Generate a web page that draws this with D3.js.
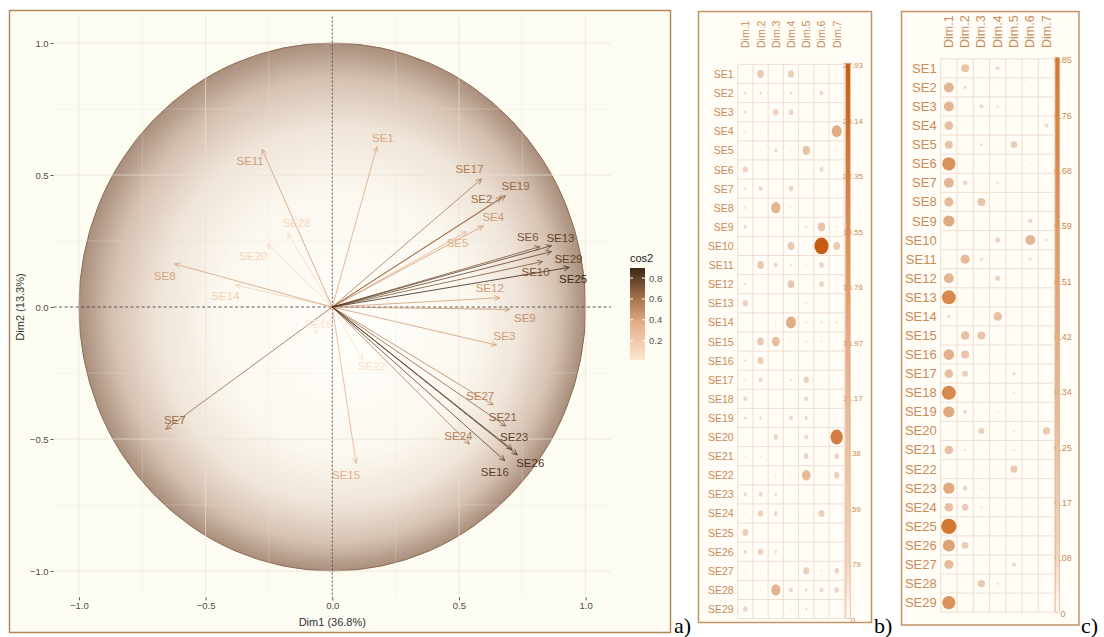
<!DOCTYPE html>
<html>
<head>
<meta charset="utf-8">
<script src="https://cdn.jsdelivr.net/npm/d3@7"></script>
<style>
  body { margin: 0; background: #fff; }
  svg text { font-family: "Liberation Sans", Arial, sans-serif; }
</style>
</head>
<body>
<svg id="fig" width="1104" height="637"></svg>
<script>
// ---- data ----
var varNames = d3.range(1, 30).map(function (i) { return "SE" + i; });
var dimNames = ["Dim.1", "Dim.2", "Dim.3", "Dim.4", "Dim.5", "Dim.6", "Dim.7"];

// variable coordinates on Dim1 / Dim2 (panel a)
var dim1Coord = [0.176, 0.668, 0.648, 0.596, 0.530, 0.819, -0.657, -0.622, 0.701, 0.830,
                 -0.277, 0.661, 0.865, -0.382, 0.094, 0.681, 0.589, -0.07, 0.684, -0.257,
                 0.685, 0.12, 0.71, 0.541, 0.935, 0.73, 0.635, -0.176, 0.865];
var dim2Coord = [0.607, 0.415, -0.144, 0.307, 0.285, 0.228, -0.463, 0.163, -0.009, 0.172,
                 0.597, 0.035, 0.232, 0.083, -0.592, -0.582, 0.485, -0.10, 0.422, 0.239,
                 -0.451, -0.20, -0.54, -0.519, 0.15, -0.56, -0.371, 0.279, 0.210];
var axisTicks = [-1, -0.5, 0, 0.5, 1];
var cos2Ticks = [0.2, 0.4, 0.6, 0.8];

// contributions (panel b), one array per dimension, rows SE1..SE29
var contribD1 = [0,1.0,1.0,0.4,0.15,3.6,0.8,0.6,1.6,0, 0,0.6,4.0,0,0,0.8,0.4,2.3,1.0,0, 0.4,0,1.6,0.25,5.1,1.6,0.25,0,3.1];
var contribD2 = [6.3,1.0,0,0.25,0.15,0,2.3,0,0,0, 6.3,0,0,0,6.3,5.1,2.3,0,1.0,0, 0.4,0,2.3,4.0,0,4.0,0.25,0.15,0];
var contribD3 = [0,0,4.0,0.15,1.6,0,0,12.4,0,0, 2.3,0,0,0.4,9.1,0,0,0,0,3.1, 0,0.4,1.0,2.3,0,1.0,0.15,12.4,0];
var contribD4 = [5.1,1.0,3.1,0,0.25,0,3.1,0.4,0,6.3, 0.6,6.3,0,14.2,0.1,0,0.6,0,2.3,0, 0,0.25,0,0,0,0,0,2.3,0.15];
var contribD5 = [0.25,0,0.25,0,7.7,0.25,0,0,0.8,0, 0.15,0,0.6,0.4,0.4,0,4.0,2.3,1.6,2.3, 3.1,10.7,0,0.25,0.15,0,5.1,1.0,0.8];
var contribD6 = [0,2.3,0,0.1,0,2.3,0,0,7.7,27.93, 3.1,3.1,0,0.6,0.4,0,0,0,0,0.25, 0.25,0,0.15,5.1,0,0,0.4,2.3,0];
var contribD7 = [0.25,0,0,14.2,0.25,0,0,0,0.4,6.3, 0,0,0,0.6,0,0,0,0,0.25,22, 3.1,4.0,0,0,0,0,3.1,3.1,0];
var contribTicks = ["0", "2.79", "5.59", "8.38", "11.17", "13.97", "16.76", "19.55", "22.35", "25.14", "27.93"];

// cos2 (panel c)
var cos2D1 = [0,0.36,0.36,0.27,0.23,0.64,0.36,0.31,0.46,0, 0.006,0.36,0.71,0.04,0,0.41,0.27,0.71,0.46,0.004, 0.27,0,0.46,0.27,0.85,0.52,0.31,0,0.64];
var cos2D2 = [0.23,0.04,0,0.004,0.004,0.003,0.079,0,0,0, 0.31,0,0.004,0,0.27,0.23,0.13,0,0.058,0, 0.014,0,0.079,0.16,0,0.16,0.01,0.004,0];
var cos2D3 = [0,0,0.058,0,0.026,0,0,0.23,0,0, 0.04,0,0,0.004,0.23,0,0,0,0,0.13, 0,0.004,0.014,0.014,0,0.006,0,0.19,0];
var cos2D4 = [0.058,0.004,0.026,0,0.004,0,0.026,0.004,0,0.10, 0.006,0.10,0,0.27,0,0,0.004,0,0.01,0, 0,0.004,0,0,0,0,0,0.026,0];
var cos2D5 = [0,0,0.004,0,0.16,0.003,0,0,0.006,0, 0,0,0.004,0.006,0.006,0,0.04,0.014,0.006,0.014, 0.014,0.19,0,0,0,0,0.058,0.006,0.006];
var cos2D6 = [0,0.003,0,0,0,0.003,0,0,0.079,0.36, 0.026,0.006,0,0,0,0,0,0,0,0, 0,0,0,0.006,0,0,0,0.004,0];
var cos2D7 = [0,0,0,0.058,0,0,0,0,0,0.026, 0,0,0,0,0,0,0,0,0,0.19, 0.004,0.004,0,0,0,0,0,0.004,0];
var cos2Ticks2 = ["0", "0.08", "0.17", "0.25", "0.34", "0.42", "0.51", "0.59", "0.68", "0.76", "0.85"];

var svg = d3.select("#fig");
var defs = svg.append("defs");

// ================= panel a =================
svg.append("rect")
    .attr("x", 9.5).attr("y", 10.5).attr("width", 661).attr("height", 622)
    .attr("fill", "#fdfcf3").attr("stroke", "#b08758").attr("stroke-width", 1.5);

var x = d3.scaleLinear().domain([-1.1, 1.1]).range([53.6, 611]);
var y = d3.scaleLinear().domain([-1.1, 1.1]).range([597.4, 16.6]);

// sphere-like gradient for the correlation circle
var sph = defs.append("radialGradient").attr("id", "sph")
    .attr("cx", 0.5).attr("cy", 0.5).attr("r", 0.5).attr("fx", 0.55).attr("fy", 0.56);
[[0, "#fffefa"], [0.5, "#fcf8f0"], [0.72, "#efe4d8"], [0.88, "#d5c1b1"], [1, "#a98e7b"]]
    .forEach(function (s) { sph.append("stop").attr("offset", s[0]).attr("stop-color", s[1]); });

svg.append("ellipse")
    .attr("cx", x(0)).attr("cy", y(0))
    .attr("rx", x(1) - x(0)).attr("ry", y(0) - y(1))
    .attr("fill", "url(#sph)").attr("stroke", "#8c6e5a").attr("stroke-width", 1);

// grid
var minor = [-0.75, -0.25, 0.25, 0.75];
var grid = svg.append("g");
minor.forEach(function (t) {
    grid.append("line").attr("x1", x(t)).attr("x2", x(t)).attr("y1", y(1.1)).attr("y2", y(-1.1))
        .attr("stroke", "#e8e4d6").attr("stroke-opacity", 0.6).attr("stroke-width", 0.5);
    grid.append("line").attr("y1", y(t)).attr("y2", y(t)).attr("x1", x(-1.1)).attr("x2", x(1.1))
        .attr("stroke", "#e8e4d6").attr("stroke-opacity", 0.6).attr("stroke-width", 0.5);
});
axisTicks.forEach(function (t) {
    if (t === 0) return;
    grid.append("line").attr("x1", x(t)).attr("x2", x(t)).attr("y1", y(1.1)).attr("y2", y(-1.1))
        .attr("stroke", "#e6e2d3").attr("stroke-opacity", 0.8).attr("stroke-width", 0.9);
    grid.append("line").attr("y1", y(t)).attr("y2", y(t)).attr("x1", x(-1.1)).attr("x2", x(1.1))
        .attr("stroke", "#e6e2d3").attr("stroke-opacity", 0.8).attr("stroke-width", 0.9);
});

// axes ticks + labels
var xAxis = svg.append("g").attr("transform", "translate(0," + 597.4 + ")")
    .call(d3.axisBottom(x).tickValues(axisTicks).tickFormat(d3.format(".1f")).tickSize(3).tickPadding(2));
var yAxis = svg.append("g").attr("transform", "translate(" + 53.6 + ",0)")
    .call(d3.axisLeft(y).tickValues(axisTicks).tickFormat(d3.format(".1f")).tickSize(3).tickPadding(2));
[xAxis, yAxis].forEach(function (a) {
    a.select(".domain").remove();
    a.selectAll("line").attr("stroke", "#555");
    a.selectAll("text").attr("fill", "#4d4d4d").style("font-size", "9.5px")
        .style("font-family", "'Liberation Sans', Arial, sans-serif");
});

svg.append("text").attr("x", x(0)).attr("y", 626).attr("text-anchor", "middle")
    .attr("fill", "#333").style("font-size", "11px").text("Dim1 (36.8%)");
svg.append("text").attr("transform", "translate(24," + y(0) + ") rotate(-90)")
    .attr("text-anchor", "middle").attr("fill", "#333").style("font-size", "11px").text("Dim2 (13.3%)");

// dashed reference lines
svg.append("line").attr("x1", x(-1.1)).attr("x2", x(1.1)).attr("y1", y(0)).attr("y2", y(0))
    .attr("stroke", "#333").attr("stroke-width", 0.8).attr("stroke-dasharray", "3,2.5");
svg.append("line").attr("x1", x(0)).attr("x2", x(0)).attr("y1", y(1.1)).attr("y2", y(-1.1))
    .attr("stroke", "#444").attr("stroke-width", 0.9).attr("stroke-dasharray", "2,2");

// arrows coloured by cos2
var cos2 = dim1Coord.map(function (d, i) { return d * d + dim2Coord[i] * dim2Coord[i]; });
var cExt = d3.extent(cos2);
var arrowColor = d3.scaleLinear()
    .domain([cExt[0], 0.35, 0.6, cExt[1]])
    .range(["#fde5cf", "#e6b28c", "#a8744c", "#3c2616"]);

var labelNudge = {
    SE1: [6, -9], SE2: [-20, 2], SE3: [8, -9], SE4: [10, -9], SE5: [-9, 11], SE6: [-12, -10],
    SE7: [9, -9], SE8: [-10, 12], SE9: [15, 9], SE10: [-7, 10], SE11: [-12, 12], SE12: [-10, -10],
    SE13: [9, -8], SE14: [-10, 11], SE15: [-10, 12], SE16: [-10, 11], SE17: [-12, -10], SE18: [4, -9],
    SE19: [10, -10], SE20: [-14, 12], SE21: [-3, -9], SE22: [9, 6], SE23: [2, -13], SE24: [-11, -8],
    SE25: [4, 12], SE26: [13, 8], SE27: [-13, -9], SE28: [9, -10], SE29: [17, 7]
};

var order = d3.range(varNames.length).sort(function (a, b) { return cos2[a] - cos2[b]; });
var arrows = svg.append("g");
order.forEach(function (i) {
    var x0 = x(0), y0 = y(0), x1 = x(dim1Coord[i]), y1 = y(dim2Coord[i]);
    var col = arrowColor(cos2[i]);
    arrows.append("line").attr("x1", x0).attr("y1", y0).attr("x2", x1).attr("y2", y1)
        .attr("stroke", col).attr("stroke-width", 0.8);
    var ang = Math.atan2(y1 - y0, x1 - x0), L = 6, a = Math.PI / 7;
    arrows.append("path")
        .attr("d", "M" + (x1 - L * Math.cos(ang - a)) + "," + (y1 - L * Math.sin(ang - a)) +
            "L" + x1 + "," + y1 +
            "L" + (x1 - L * Math.cos(ang + a)) + "," + (y1 - L * Math.sin(ang + a)))
        .attr("fill", "none").attr("stroke", col).attr("stroke-width", 0.8);
});
order.forEach(function (i) {
    var n = labelNudge[varNames[i]];
    arrows.append("text")
        .attr("x", x(dim1Coord[i]) + n[0]).attr("y", y(dim2Coord[i]) + n[1])
        .attr("text-anchor", "middle").attr("dominant-baseline", "central")
        .attr("fill", arrowColor(cos2[i])).style("font-size", "11.5px")
        .text(varNames[i]);
});

// cos2 legend
var lg = svg.append("g");
var legY = d3.scaleLinear().domain(cExt).range([360, 268]);
var lgGrad = defs.append("linearGradient").attr("id", "lgc").attr("x1", 0).attr("y1", 1).attr("x2", 0).attr("y2", 0);
d3.range(0, 1.001, 0.1).forEach(function (t) {
    lgGrad.append("stop").attr("offset", t)
        .attr("stop-color", arrowColor(cExt[0] + t * (cExt[1] - cExt[0])));
});
lg.append("text").attr("x", 630).attr("y", 262).attr("fill", "#222").style("font-size", "11px").text("cos2");
lg.append("rect").attr("x", 630).attr("y", 268).attr("width", 15).attr("height", 92).attr("fill", "url(#lgc)");
cos2Ticks.forEach(function (t) {
    lg.append("line").attr("x1", 630).attr("x2", 633).attr("y1", legY(t)).attr("y2", legY(t)).attr("stroke", "#fff");
    lg.append("line").attr("x1", 642).attr("x2", 645).attr("y1", legY(t)).attr("y2", legY(t)).attr("stroke", "#fff");
    lg.append("text").attr("x", 649).attr("y", legY(t)).attr("dominant-baseline", "central")
        .attr("fill", "#555").style("font-size", "9.5px").text(t.toFixed(1));
});

// ================= corrplot panels =================
function drawCorr(o, cols, ticks, maxV, gradId) {
    var dotColor = d3.scaleLinear().domain([0, 0.5, 1]).range(["#f2dfd2", "#e2ad86", o.topColor]);
    var g = svg.append("g");
    g.append("rect").attr("x", o.fx).attr("y", o.fy).attr("width", o.fw).attr("height", o.fh)
        .attr("fill", "#fffdf6").attr("stroke", "#c39468").attr("stroke-width", 1.5);

    var cx = d3.scaleBand().domain(dimNames).range([o.gx0, o.gx1]);
    var ry = d3.scaleBand().domain(varNames).range([o.gy0, o.gy1]);
    var cw = cx.bandwidth(), ch = ry.bandwidth();

    // grid
    dimNames.concat(["end"]).forEach(function (d, j) {
        var xx = o.gx0 + j * cw;
        g.append("line").attr("x1", xx).attr("x2", xx).attr("y1", o.gy0).attr("y2", o.gy1)
            .attr("stroke", "#ecd6ca").attr("stroke-width", 0.8);
    });
    varNames.concat(["end"]).forEach(function (d, i) {
        var yy = o.gy0 + i * ch;
        g.append("line").attr("x1", o.gx0).attr("x2", o.gx1).attr("y1", yy).attr("y2", yy)
            .attr("stroke", "#ecd6ca").attr("stroke-width", 0.8);
    });

    // circles
    cols.forEach(function (vals, j) {
        vals.forEach(function (v, i) {
            if (v <= 0) return;
            var s = Math.sqrt(v / maxV);
            g.append("ellipse")
                .attr("cx", cx(dimNames[j]) + cw / 2).attr("cy", ry(varNames[i]) + ch / 2)
                .attr("rx", Math.max(0.7, o.kx * cw * s)).attr("ry", Math.max(0.7, o.ky * ch * s))
                .attr("fill", dotColor(v / maxV));
        });
    });

    // labels
    varNames.forEach(function (n) {
        g.append("text").attr("x", o.gx0 - 4).attr("y", ry(n) + ch / 2)
            .attr("text-anchor", "end").attr("dominant-baseline", "central")
            .attr("fill", "#c98b59").style("font-size", o.rowFont + "px").text(n);
    });
    dimNames.forEach(function (d) {
        g.append("text")
            .attr("transform", "translate(" + (cx(d) + cw / 2) + "," + o.colY + ") rotate(-90)")
            .attr("dominant-baseline", "central")
            .attr("fill", "#c98b59").style("font-size", o.colFont + "px").text(d);
    });

    // colour legend
    var ly = d3.scaleLinear().domain([0, ticks.length - 1]).range([o.gy1 + 1.5, o.gy0 + 1.5]);
    ticks.forEach(function (t, k) {
        g.append("text").attr("x", o.tx).attr("y", ly(k)).attr("text-anchor", "middle")
            .attr("dominant-baseline", "central")
            .attr("fill", "#c98b59").style("font-size", o.tickFont + "px").text(t);
    });
    var gr = defs.append("linearGradient").attr("id", gradId)
        .attr("x1", 0).attr("y1", 1).attr("x2", 0).attr("y2", 0);
    d3.range(0, 1.001, 0.1).forEach(function (t) {
        gr.append("stop").attr("offset", t).attr("stop-color", t === 0 ? "#fffaf4" : dotColor(t));
    });
    g.append("rect").attr("x", o.bx).attr("y", o.gy0 - 1).attr("width", o.bw).attr("height", o.gy1 - o.gy0 + 1)
        .attr("fill", "url(#" + gradId + ")").attr("stroke", "#e3a676").attr("stroke-width", 0.6);
}

drawCorr({fx: 698.5, fy: 11.5, fw: 173, fh: 611, gx0: 737.7, gx1: 844.3, gy0: 64.4, gy1: 618.6,
          kx: 0.46, ky: 0.44, rowFont: 10.5, colFont: 10.5, colY: 48, tx: 853, tickFont: 8,
          bx: 845.8, bw: 4.4, topColor: "#c65c12"},
         [contribD1, contribD2, contribD3, contribD4, contribD5, contribD6, contribD7],
         contribTicks, 27.93, "gb");

drawCorr({fx: 901.5, fy: 11.5, fw: 177.5, fh: 613.5, gx0: 940.7, gx1: 1054.7, gy0: 58.8, gy1: 612.2,
          kx: 0.47, ky: 0.40, rowFont: 13, colFont: 12.5, colY: 48, tx: 1063, tickFont: 9,
          bx: 1055.2, bw: 4.4, topColor: "#d27832"},
         [cos2D1, cos2D2, cos2D3, cos2D4, cos2D5, cos2D6, cos2D7],
         cos2Ticks2, 0.85, "gc");

// panel letters
[["a)", 674], ["b)", 874], ["c)", 1081]].forEach(function (p) {
    svg.append("text").attr("x", p[1]).attr("y", 633)
        .style("font-family", "'Liberation Serif', 'Times New Roman', serif")
        .style("font-size", "22px").attr("fill", "#000").text(p[0]);
});
</script>
</body>
</html>
